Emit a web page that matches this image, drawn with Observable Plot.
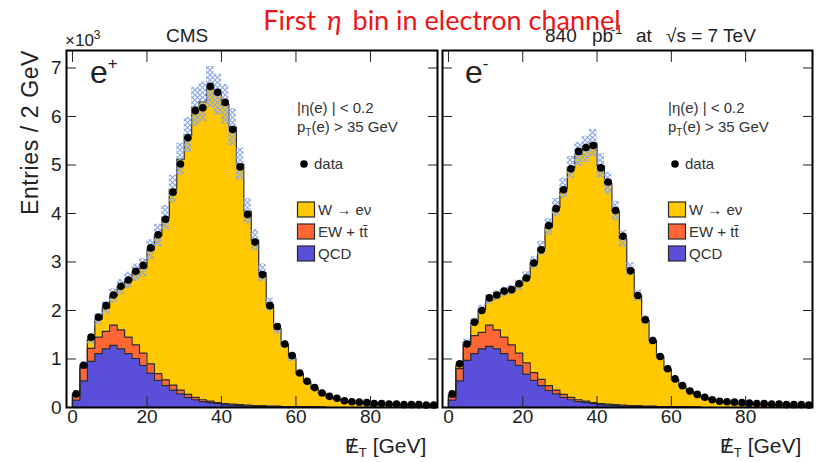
<!DOCTYPE html>
<html><head><meta charset="utf-8">
<script src="https://cdn.jsdelivr.net/npm/d3@7"></script>
<script src="https://cdn.jsdelivr.net/npm/@observablehq/plot@0.6"></script>
<style>
body{margin:0;background:#fff;}
#chart{position:relative;width:823px;height:462px;overflow:hidden;}
#chart svg{position:absolute;top:0;}
</style></head><body><div id="chart"></div>
<script>
// ---- data (Entries / 2 GeV, in units of 10^3) ----
const binLow = d3.range(0, 98, 2);           // 49 bins of 2 GeV, 0..98
const xTicks = [0, 20, 40, 60, 80];
const yTicks = [0, 1, 2, 3, 4, 5, 6, 7];
const legendLabels = ["W \u2192 e\u03bd", "EW + tt\u0304", "QCD"];

// e+ panel
const dataPos = [0.28,0.87,1.45,1.86,2.10,2.32,2.50,2.63,2.81,2.93,3.29,3.56,3.88,4.44,5.02,5.56,6.12,6.18,6.62,6.50,6.29,5.73,4.96,3.98,3.41,2.74,2.10,1.67,1.31,1.07,0.71,0.54,0.41,0.30,0.23,0.19,0.14,0.12,0.11,0.10,0.08,0.08,0.07,0.07,0.06,0.06,0.06,0.05,0.05];
const qcdPos  = [0.15,0.55,0.95,1.11,1.21,1.28,1.21,1.11,1.01,0.87,0.71,0.56,0.45,0.36,0.28,0.21,0.16,0.12,0.10,0.08,0.06,0.05,0.04,0.03,0.03,0.02,0.02,0.02,0.01,0.01,0.01,0.01,0.01,0.01,0,0,0,0,0,0,0,0,0,0,0,0,0,0,0];
const ewkPos  = [0.10,0.27,0.27,0.34,0.36,0.42,0.39,0.34,0.28,0.25,0.19,0.14,0.12,0.10,0.08,0.06,0.05,0.04,0.03,0.02,0.02,0.02,0.02,0.02,0.01,0.02,0.01,0.01,0.01,0.01,0.01,0.01,0.01,0,0,0,0,0,0,0,0,0,0,0,0,0,0,0,0];
const wenuPos = [0.03,0.06,0.18,0.37,0.48,0.60,0.88,1.17,1.49,1.76,2.35,2.85,3.35,4.04,4.76,5.35,5.99,6.14,6.47,6.35,6.17,5.71,4.96,4.00,3.41,2.74,2.09,1.59,1.28,1.00,0.68,0.51,0.38,0.29,0.22,0.17,0.13,0.11,0.09,0.08,0.07,0.06,0.05,0.05,0.04,0.04,0.04,0.03,0.03];
const errPos  = [0.02,0.06,0.09,0.12,0.13,0.15,0.16,0.17,0.18,0.19,0.21,0.23,0.25,0.29,0.33,0.36,0.40,0.41,0.43,0.42,0.41,0.38,0.33,0.26,0.22,0.18,0.14,0.11,0.08,0.07,0.05,0.03,0.03,0.02,0.01,0.01,0.01,0.01,0.01,0.01,0.01,0,0,0,0,0,0,0,0];

// e- panel
const dataNeg = [0.28,0.90,1.31,1.76,2.00,2.26,2.32,2.40,2.43,2.55,2.67,2.98,3.25,3.75,4.10,4.49,4.92,5.28,5.36,5.40,4.94,4.65,4.06,3.53,2.82,2.31,1.81,1.38,1.05,0.80,0.59,0.45,0.34,0.27,0.21,0.16,0.13,0.12,0.11,0.10,0.09,0.08,0.08,0.07,0.07,0.06,0.06,0.06,0.05];
const qcdNeg  = [0.15,0.55,0.97,1.11,1.21,1.26,1.21,1.11,0.97,0.87,0.69,0.56,0.45,0.35,0.28,0.21,0.16,0.12,0.10,0.08,0.06,0.05,0.04,0.03,0.03,0.02,0.02,0.02,0.01,0.01,0.01,0.01,0.01,0.01,0,0,0,0,0,0,0,0,0,0,0,0,0,0,0];
const ewkNeg  = [0.07,0.25,0.33,0.37,0.34,0.44,0.39,0.34,0.32,0.25,0.23,0.16,0.13,0.10,0.08,0.06,0.05,0.04,0.03,0.02,0.02,0.02,0.02,0.02,0.01,0.02,0.01,0.01,0.01,0.01,0.01,0.01,0.01,0,0,0,0,0,0,0,0,0,0,0,0,0,0,0,0];
const wenuNeg = [0.04,0.08,0.05,0.27,0.47,0.52,0.70,0.93,1.13,1.40,1.76,2.26,2.70,3.27,3.76,4.25,4.74,5.06,5.19,5.35,4.90,4.55,3.99,3.43,2.81,2.26,1.77,1.35,1.03,0.77,0.56,0.42,0.32,0.25,0.20,0.16,0.13,0.11,0.09,0.08,0.07,0.06,0.05,0.05,0.04,0.04,0.04,0.03,0.03];
const errNeg  = [0.01,0.04,0.06,0.08,0.09,0.10,0.10,0.10,0.10,0.11,0.12,0.13,0.15,0.17,0.19,0.21,0.23,0.25,0.27,0.28,0.25,0.23,0.20,0.17,0.14,0.11,0.09,0.07,0.05,0.04,0.03,0.02,0.02,0.01,0.01,0,0,0,0,0,0,0,0,0,0,0,0,0,0];

const COLORS = {w: "#ffc800", ewk: "#ff6633", qcd: "#5a4fd8"};
const FONT = "'Liberation Sans', Arial, Helvetica, sans-serif";
const OUTLINE = "#2a2a2a";

function panel(o) {
  const n = o.data.length;
  const steps = [{x: binLow[0], start: true}].concat(
    d3.range(n + 1).map(i => ({x: i < n ? binLow[i] : binLow[n - 1] + 2, k: Math.min(i, n - 1)})));
  const rows = steps.map(({x, k, start}) => {
    if (start) return {x, q: 0, e: 0, t: 0, lo: 0, hi: 0};
    const q = o.qcd[k], e = q + o.ewk[k], t = e + o.wenu[k];
    return {x, q, e, t, lo: t - o.err[k], hi: t + o.err[k]};
  });
  const pts = o.data.map((v, k) => ({x: binLow[k] + 1, v}));

  const defs = () => {
    const d = d3.create("svg:defs");
    const p = d.append("pattern").attr("id", o.id).attr("patternUnits", "userSpaceOnUse")
      .attr("width", 5).attr("height", 5);
    p.append("path").attr("d", "M0,0L5,5M5,0L0,5").attr("stroke", "#8aa6e6")
      .attr("stroke-width", 1.1).attr("fill", "none");
    return d.node();
  };
  const line = {curve: "step-after", stroke: OUTLINE, strokeWidth: 1.2};
  const marks = [
    defs,
    Plot.areaY(rows, {x: "x", y1: 0, y2: "q", curve: "step-after", fill: COLORS.qcd}),
    Plot.areaY(rows, {x: "x", y1: "q", y2: "e", curve: "step-after", fill: COLORS.ewk}),
    Plot.areaY(rows, {x: "x", y1: "e", y2: "t", curve: "step-after", fill: COLORS.w}),
    Plot.lineY(rows, {x: "x", y: "t", ...line}),
    Plot.lineY(rows, {x: "x", y: "e", ...line}),
    Plot.lineY(rows, {x: "x", y: "q", ...line}),
    Plot.areaY(rows, {x: "x", y1: "lo", y2: "hi", curve: "step-after", fill: `url(#${o.id})`}),
    Plot.dot(pts, {x: "x", y: "v", r: 3.8, fill: "#000"}),
    Plot.axisY(yTicks, {anchor: "left", tickSize: -10, tickFormat: () => "", label: null}),
    Plot.axisY(yTicks, {anchor: "right", tickSize: -10, tickFormat: () => "", label: null}),
    Plot.axisX(xTicks, {anchor: "bottom", tickSize: -11, tickFormat: () => "", label: null}),
    Plot.axisX(xTicks, {anchor: "top", tickSize: -11, tickFormat: () => "", label: null}),
    Plot.axisX(xTicks, {anchor: "bottom", tickSize: 0, tickPadding: 2, label: null, fontSize: 19}),
    o.yLabels ? Plot.axisY(yTicks, {anchor: "left", tickSize: 0, tickPadding: 5, label: null, fontSize: 19}) : null,
    Plot.frame({stroke: "#000", strokeWidth: 2})
  ].filter(Boolean);

  const svg = Plot.plot({
    width: o.width, height: 462,
    marginLeft: o.mL, marginRight: o.mR, marginTop: 50, marginBottom: 55,
    x: {domain: [-1.6, 98]},
    y: {domain: [0, 7.36]},
    style: {fontFamily: FONT, fontSize: "18px", color: "#222", background: "transparent", overflow: "visible"},
    marks
  });
  svg.style.left = o.left + "px";
  return svg;
}

const chart = document.getElementById("chart");
chart.appendChild(panel({id: "hatchPos", data: dataPos, qcd: qcdPos, ewk: ewkPos, wenu: wenuPos, err: errPos,
  left: 0, width: 440, mL: 66, mR: 3, yLabels: true}));
chart.appendChild(panel({id: "hatchNeg", data: dataNeg, qcd: qcdNeg, ewk: ewkNeg, wenu: wenuNeg, err: errNeg,
  left: 440, width: 383, mL: 2, mR: 11, yLabels: false}));

// ---- text overlay ----
const ov = d3.select(chart).append("svg").attr("width", 823).attr("height", 462)
  .style("left", "0px").style("pointer-events", "none")
  .attr("font-family", FONT).attr("fill", "#222");

// y-axis title
ov.append("text").attr("transform", "translate(38,50) rotate(-90)").attr("text-anchor", "end")
  .attr("font-size", 23).attr("letter-spacing", 0.6).text("Entries / 2 GeV");
// x10^3
const e3 = ov.append("text").attr("x", 65).attr("y", 46).attr("font-size", 17);
e3.append("tspan").text("\u00d710");
e3.append("tspan").attr("font-size", 12).attr("dy", -7).text("3");
// CMS
ov.append("text").attr("x", 166).attr("y", 42).attr("font-size", 19).text("CMS");
// luminosity
const lumi = ov.append("g").attr("font-size", 19);
lumi.append("text").attr("x", 545).attr("y", 42).text("840");
lumi.append("text").attr("x", 592).attr("y", 42).text("pb");
lumi.append("text").attr("x", 611).attr("y", 34).attr("font-size", 13).text("-1");
lumi.append("text").attr("x", 636).attr("y", 42).text("at");
lumi.append("text").attr("x", 666).attr("y", 42).text("\u221as = 7 TeV");

// x-axis titles (missing transverse energy, slashed E)
for (const x0 of [345, 720]) {
  const t = ov.append("text").attr("x", x0).attr("y", 453).attr("font-size", 21);
  t.append("tspan").text("E");
  t.append("tspan").attr("dx", -10).text("/");
  t.append("tspan").attr("font-size", 13).attr("dx", 4).attr("dy", 4).text("T");
  t.append("tspan").attr("dy", -4).text(" [GeV]");
}

// charge labels
for (const [x0, s] of [[90, "+"], [465, "-"]]) {
  const t = ov.append("text").attr("x", x0).attr("y", 83).attr("font-size", 32);
  t.append("tspan").text("e");
  t.append("tspan").attr("font-size", 17).attr("dy", -14).text(s);
}

// legends
for (const lx of [297, 668]) {
  const g = ov.append("g").attr("font-size", 15).attr("fill", "#333");
  const l1 = g.append("text").attr("x", lx).attr("y", 113);
  l1.append("tspan").text("|\u03b7(e) | < 0.2");
  const l2 = g.append("text").attr("x", lx).attr("y", 132);
  l2.append("tspan").text("p");
  l2.append("tspan").attr("font-size", 10).attr("dy", 4).text("T");
  l2.append("tspan").attr("dy", -4).text("(e) > 35 GeV");
  g.append("circle").attr("cx", lx + 7).attr("cy", 164).attr("r", 3.8).attr("fill", "#000");
  g.append("text").attr("x", lx + 17).attr("y", 169).text("data");
  const cols = [COLORS.w, COLORS.ewk, COLORS.qcd];
  legendLabels.forEach((lab, i) => {
    const y0 = 202 + i * 22;
    g.append("rect").attr("x", lx + 0.5).attr("y", y0).attr("width", 17).attr("height", 15)
      .attr("fill", cols[i]).attr("stroke", OUTLINE).attr("stroke-width", 1.2);
    g.append("text").attr("x", lx + 21).attr("y", y0 + 13).text(lab);
  });
}

// title (on top)
const title = ov.append("text").attr("x", 442).attr("y", 30).attr("text-anchor", "middle")
  .attr("font-family", "Lato, 'Open Sans', sans-serif").attr("font-size", 27).attr("fill", "#f01414");
title.append("tspan").text("First ");
title.append("tspan").attr("font-style", "italic").attr("dx", 4).text("\u03b7");
title.append("tspan").attr("dx", 4).text(" bin in electron channel");
</script></body></html>
